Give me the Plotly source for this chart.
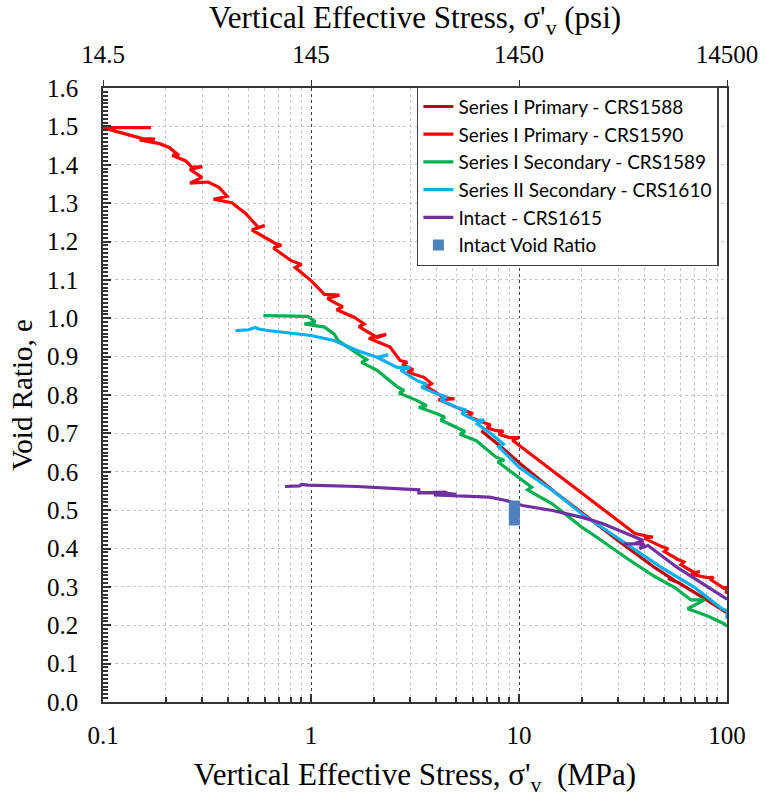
import plotly.graph_objects as go

# ---- data (stress in MPa, void ratio e) ----
crs1588_x = [6.59, 8.0, 10.4, 15.0, 21.5, 30.0, 45.0, 55.9, 52.0, 58.0, 75.0, 96.8, 100.0]
crs1588_e = [0.707, 0.670, 0.616, 0.545, 0.481, 0.420, 0.350, 0.317, 0.322, 0.312, 0.275, 0.238, 0.232]

crs1590_x = [0.170, 0.100, 0.112, 0.135, 0.155, 0.178, 0.150, 0.187, 0.208, 0.232, 0.215, 0.250,
             0.268, 0.300, 0.262, 0.299, 0.262, 0.320, 0.361, 0.395, 0.340, 0.416, 0.485, 0.559,
             0.600, 0.520, 0.674, 0.720, 0.660, 0.803, 0.900, 0.840, 1.000, 1.160, 1.370, 1.200,
             1.245, 1.420, 1.330, 1.620, 1.800, 1.700, 2.080, 2.300, 1.900, 2.400, 2.680, 2.900,
             2.750, 3.100, 2.900, 3.490, 3.800, 3.600, 4.350, 4.900, 4.100, 5.410, 6.000, 5.600,
             6.970, 7.300, 7.000, 7.770, 8.400, 8.000, 8.960, 10.00, 9.300, 36.10, 41.60, 44.00,
             40.00, 48.50, 52.00, 50.00, 57.80, 62.00, 60.00, 69.70, 74.00, 67.00, 80.40, 86.00,
             84.00, 89.60, 96.80, 100.0, 99.00]
crs1590_e = [1.497, 1.497, 1.489, 1.478, 1.468, 1.467, 1.465, 1.455, 1.445, 1.424, 1.425, 1.410,
             1.393, 1.395, 1.388, 1.367, 1.352, 1.355, 1.341, 1.318, 1.310, 1.301, 1.273, 1.236,
             1.242, 1.230, 1.195, 1.190, 1.183, 1.150, 1.140, 1.132, 1.098, 1.062, 1.060, 1.052,
             1.046, 1.030, 1.022, 1.002, 0.985, 0.978, 0.950, 0.958, 0.948, 0.925, 0.890, 0.885,
             0.878, 0.866, 0.860, 0.846, 0.830, 0.822, 0.793, 0.790, 0.788, 0.760, 0.752, 0.745,
             0.726, 0.722, 0.715, 0.707, 0.706, 0.698, 0.689, 0.689, 0.682, 0.439, 0.432, 0.430,
             0.427, 0.405, 0.400, 0.392, 0.372, 0.365, 0.358, 0.337, 0.340, 0.333, 0.324, 0.325,
             0.318, 0.309, 0.296, 0.300, 0.282]

crs1589_x = [0.59, 0.968, 1.05, 0.93, 1.16, 1.29, 1.35, 1.67, 1.85, 1.75, 2.08, 2.59, 2.80, 2.65,
             3.22, 3.60, 3.30, 4.03, 4.40, 4.20, 5.00, 5.50, 5.20, 6.23, 7.76, 8.50, 7.90, 10.4,
             11.5, 11.0, 14.5, 20.1, 23.3, 33.5, 44.9, 55.9, 67.1, 78.0, 64.7, 80.0, 96.8, 100.0]
crs1589_e = [1.007, 1.005, 0.990, 0.985, 0.977, 0.959, 0.942, 0.907, 0.892, 0.885, 0.864, 0.822,
             0.812, 0.805, 0.786, 0.772, 0.768, 0.751, 0.742, 0.735, 0.716, 0.705, 0.698, 0.681,
             0.638, 0.630, 0.626, 0.577, 0.560, 0.553, 0.516, 0.455, 0.432, 0.372, 0.327, 0.299,
             0.266, 0.266, 0.243, 0.225, 0.204, 0.197]

crs1610_x = [0.433, 0.50, 0.54, 0.56, 0.62, 1.0, 1.29, 1.67, 2.08, 2.35, 2.10, 2.59, 3.0, 2.7,
             3.22, 3.60, 3.40, 4.03, 4.50, 4.20, 5.0, 5.60, 5.30, 6.23, 6.8, 6.3, 7.2, 8.4, 8.0,
             10.0, 14.5, 20.1, 31.3, 48.3, 69.7, 94.6, 100.0, 100.0]
crs1610_e = [0.968, 0.970, 0.976, 0.972, 0.968, 0.955, 0.942, 0.916, 0.898, 0.905, 0.897, 0.872,
             0.872, 0.865, 0.838, 0.828, 0.820, 0.803, 0.795, 0.787, 0.768, 0.760, 0.752, 0.733,
             0.735, 0.724, 0.703, 0.672, 0.665, 0.612, 0.551, 0.490, 0.421, 0.351, 0.299, 0.243,
             0.238, 0.217]

crs1615_x = [0.75, 0.88, 0.90, 0.968, 1.67, 2.89, 3.3, 3.3, 4.4, 4.6, 5.0, 3.9, 7.2, 8.67, 10.4,
             14.5, 20.1, 25.0, 33.5, 39.6, 36.0, 32.0, 40.0, 38.0, 41.7, 57.8, 96.8, 100.0]
crs1615_e = [0.5615, 0.563, 0.567, 0.565, 0.5615, 0.555, 0.553, 0.545, 0.547, 0.543, 0.541, 0.540,
             0.534, 0.525, 0.512, 0.499, 0.481, 0.466, 0.438, 0.421, 0.413, 0.412, 0.412, 0.400,
             0.408, 0.350, 0.273, 0.268]

# intact void ratio: stress and range of e
intact_x = [9.5]
intact_e_low = [0.460]
intact_e_high = [0.525]

names = ["Series I Primary - CRS1588", "Series I Primary - CRS1590",
         "Series I Secondary - CRS1589", "Series II Secondary - CRS1610",
         "Intact - CRS1615", "Intact Void Ratio"]

# top axis labels (psi equivalents of the MPa ticks)
mpa_ticks = [0.1, 1, 10, 100]
mpa_labels = ["0.1", "1", "10", "100"]
psi_labels = ["14.5", "145", "1450", "14500"]

colors = ["#C00000", "#FF0000", "#00B050", "#00B0F0", "#7030A0", "#4F81BD"]

serif = "Liberation Serif"

fig = go.Figure()
series = [(crs1588_x, crs1588_e), (crs1590_x, crs1590_e), (crs1589_x, crs1589_e),
          (crs1610_x, crs1610_e), (crs1615_x, crs1615_e)]
for (xs, es), nm, c in zip(series, names[:5], colors[:5]):
    fig.add_trace(go.Scatter(x=xs, y=es, mode="lines", name=nm,
                             line=dict(color=c, width=3.2)))

mid = [(a + b) / 2 for a, b in zip(intact_e_low, intact_e_high)]
half = [(b - a) / 2 for a, b in zip(intact_e_low, intact_e_high)]
fig.add_trace(go.Scatter(x=intact_x, y=mid, mode="markers", name=names[5],
                         marker=dict(symbol="square", size=11, color=colors[5]),
                         error_y=dict(type="data", array=half, symmetric=True,
                                      thickness=11, width=0, color=colors[5])))

minor_vals = [m * 10 ** d for d in (-1, 0, 1) for m in range(2, 10)]

fig.update_layout(
    width=770, height=804,
    margin=dict(l=103, r=37, t=88, b=102),
    paper_bgcolor="white", plot_bgcolor="white",
    font=dict(family=serif, color="black"),
    showlegend=True,
    legend=dict(x=0.987, y=1.003, xanchor="right", yanchor="top",
                bgcolor="white", bordercolor="#404040", borderwidth=1.5,
                font=dict(family="Lato", size=19, color="black")),
    xaxis=dict(
        type="log", range=[-1, 2],
        tickmode="array", tickvals=mpa_ticks, ticktext=mpa_labels,
        ticks="inside", ticklen=8, tickcolor="#333", tickwidth=1.5,
        tickfont=dict(family=serif, size=25), ticklabelstandoff=10,
        showline=True, linecolor="#333", linewidth=1.5,
        showgrid=True, gridcolor="#404040", griddash="dot", gridwidth=1,
        minor=dict(tickmode="array", tickvals=minor_vals, ticks="inside", ticklen=5,
                   tickcolor="#333", showgrid=True, gridcolor="#c4c4c4",
                   griddash="dot", gridwidth=1),
        zeroline=False,
        title=dict(text="Vertical Effective Stress, σ'<sub>v</sub>\u00a0 (MPa)",
                   font=dict(family=serif, size=31), standoff=16),
    ),
    xaxis2=dict(
        type="log", range=[-1, 2], overlaying="x", side="top",
        tickmode="array", tickvals=mpa_ticks, ticktext=psi_labels,
        ticks="outside", ticklen=6, tickcolor="#333",
        tickfont=dict(family=serif, size=25), ticklabelstandoff=7,
        showline=True, linecolor="#333", linewidth=1.5, showgrid=False,
        zeroline=False,
        title=dict(text="Vertical Effective Stress, σ'<sub>v</sub> (psi)",
                   font=dict(family=serif, size=31), standoff=5),
    ),
    yaxis=dict(
        range=[0, 1.6], tickmode="linear", tick0=0, dtick=0.1, tickformat=".1f",
        ticks="inside", ticklen=8, tickcolor="#333", tickwidth=1.5,
        tickfont=dict(family=serif, size=25), ticklabelstandoff=18,
        showline=True, linecolor="#333", linewidth=1.5, mirror=True,
        showgrid=True, gridcolor="#c4c4c4", griddash="dot", gridwidth=1,
        minor=dict(dtick=0.01, ticks="inside", ticklen=5, tickcolor="#333",
                   showgrid=False),
        zeroline=False,
        title=dict(text="Void Ratio, e", font=dict(family=serif, size=29), standoff=6),
    ),
)

# anchor an invisible trace to the top axis so it is drawn
fig.add_trace(go.Scatter(x=[mpa_ticks[0]], y=[0], xaxis="x2", mode="markers",
                         marker=dict(opacity=0), showlegend=False, hoverinfo="skip"))

fig.write_html("out.html")
